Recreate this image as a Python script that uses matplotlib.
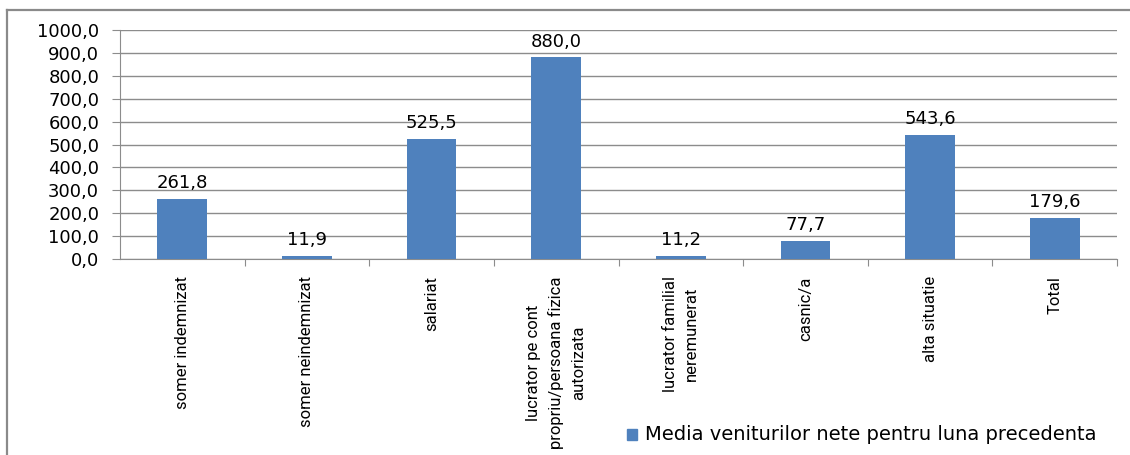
import matplotlib
matplotlib.use("Agg")
import matplotlib.pyplot as plt
from matplotlib.patches import Rectangle
from matplotlib.lines import Line2D

categories = [
    "somer indemnizat",
    "somer neindemnizat",
    "salariat",
    "lucrator pe cont\npropriu/persoana fizica\nautorizata",
    "lucrator familial\nneremunerat",
    "casnic/a",
    "alta situatie",
    "Total",
]
values = [261.8, 11.9, 525.5, 880.0, 11.2, 77.7, 543.6, 179.6]
series_name = "Media veniturilor nete pentru luna precedenta"
yticks = [0, 100, 200, 300, 400, 500, 600, 700, 800, 900, 1000]

W, H = 1130, 455
fig = plt.figure(figsize=(W / 100, H / 100), dpi=100)
fig.patch.set_facecolor("white")

# outer frame (left and top visible)
fig.add_artist(Line2D([7 / W, 7 / W], [0, 1 - 10 / H], transform=fig.transFigure,
                      color="#8a8a8a", lw=1.6))
fig.add_artist(Line2D([7 / W, 1.0], [1 - 10 / H, 1 - 10 / H], transform=fig.transFigure,
                      color="#8a8a8a", lw=1.6))

left, right = 120 / W, 1117 / W
bottom, top = 1 - 259 / H, 1 - 30 / H
ax = fig.add_axes([left, bottom, right - left, top - bottom])

x = list(range(len(categories)))
ax.bar(x, values, width=0.4, color="#4F81BD", zorder=3)

ax.set_xlim(-0.5, len(categories) - 0.5)
ax.set_ylim(0, 1000)
ax.set_yticks(yticks)
ax.set_yticklabels([f"{v:.1f}".replace(".", ",") for v in yticks],
                   fontsize=13, family="DejaVu Sans", color="#000000")
ax.yaxis.grid(True, color="#8c8c8c", lw=1.0, zorder=0)
ax.set_axisbelow(True)

for s in ["top", "right"]:
    ax.spines[s].set_visible(False)
ax.spines["left"].set_color("#8c8c8c")
ax.spines["bottom"].set_color("#8c8c8c")
ax.tick_params(axis="y", length=6, color="#8c8c8c", pad=9)

# x ticks at category boundaries
ax.set_xticks([i + 0.5 for i in range(len(categories))])
ax.set_xticklabels([])
ax.tick_params(axis="x", length=5, color="#8c8c8c", direction="out")

for i, lab in enumerate(categories):
    ax.text(i, -0.075, lab, transform=ax.get_xaxis_transform(), rotation=90,
            ha="center", va="top", multialignment="center", linespacing=1.55,
            fontsize=12, family=["Roboto", "DejaVu Sans"], color="#000000")

for i, v in enumerate(values):
    ax.annotate(f"{v:.1f}".replace(".", ","), (i, v), xytext=(0, 5),
                textcoords="offset points", ha="center", va="bottom",
                fontsize=13, family="DejaVu Sans", color="#000000")

# legend
fig.add_artist(Rectangle((627 / W, 1 - 440 / H), 10 / W, 11 / H,
                         transform=fig.transFigure, color="#4F81BD"))
fig.text(645 / W, 1 - 434 / H, series_name, ha="left", va="center",
         fontsize=14, family="DejaVu Sans", color="#000000")

fig.savefig("out.png", dpi=100)
